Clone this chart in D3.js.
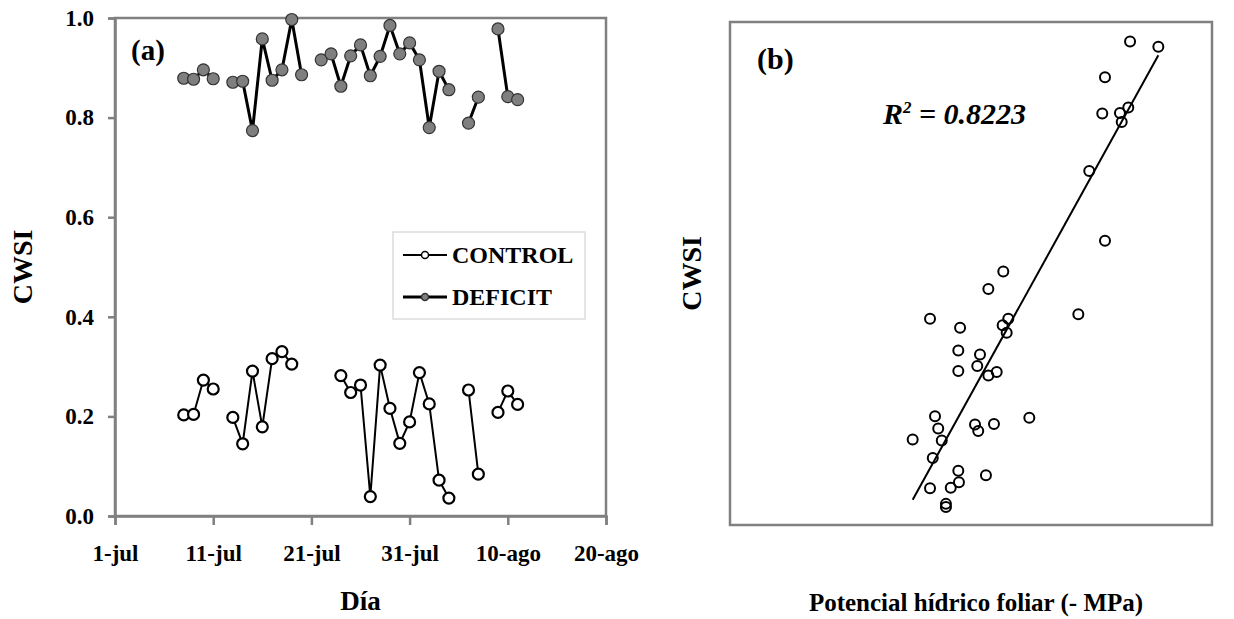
<!DOCTYPE html>
<html lang="es">
<head>
    <meta charset="utf-8">
    <title>CWSI</title>
    <script src="https://cdn.jsdelivr.net/npm/d3@7"></script>
    <style>
        body {
            margin: 0;
            background-color: #fff;
        }
        svg text {
            font-family: "Liberation Serif", "Times New Roman", Times, "DejaVu Serif", serif !important;
            font-weight: bold;
            fill: #000;
        }
    </style>
</head>

<body>
    <svg width="1234" height="619"></svg>

    <script>
    // panel (a): days counted from 1-jul (0 = 1-jul)
    var days = [7, 8, 9, 10, 11, 12, 13, 14, 15, 16, 17, 18, 19, 20, 21, 22, 23, 24, 25, 26, 27,
                28, 29, 30, 31, 32, 33, 34, 35, 36, 37, 38, 39, 40, 41];
    var control = [0.203, 0.204, 0.273, 0.255, null, 0.198, 0.145, 0.291, 0.179, 0.316, 0.330, 0.305,
                   null, null, null, null, 0.282, 0.248, 0.263, 0.039, 0.303, 0.216, 0.146, 0.189,
                   0.288, 0.225, 0.072, 0.036, null, 0.253, 0.084, null, 0.208, 0.251, 0.224];
    var deficit = [0.879, 0.877, 0.896, 0.878, null, 0.871, 0.873, 0.774, 0.958, 0.875, 0.896, 0.997,
                   0.886, null, 0.916, 0.928, 0.863, 0.924, 0.946, 0.884, 0.923, 0.985, 0.928, 0.950,
                   0.916, 0.780, 0.893, 0.856, null, 0.789, 0.841, null, 0.978, 0.842, 0.836];
    var dayTicks = [0, 10, 20, 30, 40, 50];
    var dayTickLabels = ["1-jul", "11-jul", "21-jul", "31-jul", "10-ago", "20-ago"];
    var cwsiTicks = [0, 0.2, 0.4, 0.6, 0.8, 1.0];

    // panel (b): leaf water potential (- MPa) vs CWSI
    var potencial = [2.490, 2.666, 2.334, 2.317, 2.427, 2.479, 2.438, 2.236, 2.334, 1.701, 1.608, 2.168,
                     1.245, 1.732, 1.697, 1.722, 1.432, 1.421, 1.556, 1.539, 1.421, 1.608, 1.660, 1.276,
                     1.296, 1.525, 1.545, 1.643, 1.863, 1.137, 1.318, 1.262, 1.421, 1.593, 1.245, 1.374,
                     1.425, 1.344, 1.344];
    var cwsiB = [0.961, 0.951, 0.890, 0.818, 0.819, 0.830, 0.801, 0.704, 0.565, 0.504, 0.469, 0.419,
                 0.410, 0.410, 0.397, 0.382, 0.392, 0.347, 0.339, 0.316, 0.306, 0.297, 0.304, 0.216,
                 0.192, 0.200, 0.187, 0.201, 0.213, 0.170, 0.168, 0.133, 0.108, 0.099, 0.073, 0.074,
                 0.085, 0.042, 0.036];
    var trendSlope = 0.578;
    var trendIntercept = -0.607;
    var r2Label = "0.8223";

    var svg = d3.select("svg");
    var grey = "#808080";

    //---------------- panel (a) ----------------
    var x = d3.scaleLinear().domain([0, 50]).range([115, 606]);
    var y = d3.scaleLinear().domain([0, 1]).range([516, 18]);

    var a = svg.append("g");

    // plot area border
    a.append("rect")
        .attr("x", x(0)).attr("y", y(1))
        .attr("width", x(50) - x(0)).attr("height", y(0) - y(1))
        .attr("fill", "none").attr("stroke", grey).attr("stroke-width", 2.5);

    var yAxis = a.append("g")
        .attr("transform", "translate(" + x(0) + ",0)")
        .call(d3.axisLeft(y).tickValues(cwsiTicks).tickFormat(d3.format(".1f")).tickSize(7).tickPadding(14));
    var xAxis = a.append("g")
        .attr("transform", "translate(0," + y(0) + ")")
        .call(d3.axisBottom(x).tickValues(dayTicks)
            .tickFormat(function(d, i) { return dayTickLabels[i]; }).tickSize(9).tickPadding(20));

    [yAxis, xAxis].forEach(function(ax) {
        ax.select(".domain").attr("stroke", grey).attr("stroke-width", 2.5);
        ax.selectAll(".tick line").attr("stroke", grey).attr("stroke-width", 2.5);
        ax.selectAll(".tick text").attr("font-size", 23);
    });

    var ctrlPts = days.map(function(d, i) { return { d: d, v: control[i] }; });
    var defPts = days.map(function(d, i) { return { d: d, v: deficit[i] }; });

    var line = d3.line()
        .defined(function(p) { return p.v !== null; })
        .x(function(p) { return x(p.d); })
        .y(function(p) { return y(p.v); });

    a.append("path").datum(ctrlPts)
        .attr("d", line).attr("fill", "none").attr("stroke", "#000").attr("stroke-width", 2);
    a.append("path").datum(defPts)
        .attr("d", line).attr("fill", "none").attr("stroke", "#000").attr("stroke-width", 3);

    a.selectAll("circle.ctrl")
        .data(ctrlPts.filter(function(p) { return p.v !== null; }))
        .enter().append("circle").attr("class", "ctrl")
        .attr("cx", function(p) { return x(p.d); })
        .attr("cy", function(p) { return y(p.v); })
        .attr("r", 5.5).attr("fill", "#fff").attr("stroke", "#000").attr("stroke-width", 2.2);

    a.selectAll("circle.def")
        .data(defPts.filter(function(p) { return p.v !== null; }))
        .enter().append("circle").attr("class", "def")
        .attr("cx", function(p) { return x(p.d); })
        .attr("cy", function(p) { return y(p.v); })
        .attr("r", 6).attr("fill", "#7f7f7f").attr("stroke", "#333").attr("stroke-width", 1.2);

    a.append("text").attr("x", 131).attr("y", 60).attr("font-size", 29).text("(a)");

    a.append("text")
        .attr("transform", "translate(32," + ((y(0) + y(1)) / 2) + ") rotate(-90)")
        .attr("text-anchor", "middle").attr("font-size", 28).text("CWSI");
    a.append("text")
        .attr("x", (x(0) + x(50)) / 2).attr("y", 610)
        .attr("text-anchor", "middle").attr("font-size", 27).text("Día");

    // legend
    var leg = a.append("g");
    leg.append("rect").attr("x", 393).attr("y", 232).attr("width", 192).attr("height", 87)
        .attr("fill", "#fff").attr("stroke", "#dcdcdc").attr("stroke-width", 1.5);
    var legItems = [
        { name: "CONTROL", fill: "#fff", stroke: "#000", w: 2, ly: 255 },
        { name: "DEFICIT", fill: "#7f7f7f", stroke: "#333", w: 3, ly: 297 }
    ];
    legItems.forEach(function(it) {
        leg.append("line").attr("x1", 403).attr("x2", 447).attr("y1", it.ly).attr("y2", it.ly)
            .attr("stroke", "#000").attr("stroke-width", it.w);
        leg.append("circle").attr("cx", 425).attr("cy", it.ly).attr("r", 3.5)
            .attr("fill", it.fill).attr("stroke", it.stroke).attr("stroke-width", 1.5);
        leg.append("text").attr("x", 452).attr("y", it.ly + 8).attr("font-size", 24).text(it.name);
    });

    //---------------- panel (b) ----------------
    var xb = d3.scaleLinear().domain([0, 3]).range([730, 1212]);
    var yb = d3.scaleLinear().domain([0, 1]).range([525, 22]);

    var b = svg.append("g");
    b.append("rect")
        .attr("x", xb(0)).attr("y", yb(1))
        .attr("width", xb(3) - xb(0)).attr("height", yb(0) - yb(1))
        .attr("fill", "none").attr("stroke", grey).attr("stroke-width", 2.5);

    var ext = d3.extent(potencial);
    b.append("line")
        .attr("x1", xb(ext[0])).attr("y1", yb(trendSlope * ext[0] + trendIntercept))
        .attr("x2", xb(ext[1])).attr("y2", yb(trendSlope * ext[1] + trendIntercept))
        .attr("stroke", "#000").attr("stroke-width", 2);

    b.selectAll("circle")
        .data(potencial.map(function(p, i) { return [p, cwsiB[i]]; }))
        .enter().append("circle")
        .attr("cx", function(p) { return xb(p[0]); })
        .attr("cy", function(p) { return yb(p[1]); })
        .attr("r", 5).attr("fill", "none").attr("stroke", "#000").attr("stroke-width", 2);

    b.append("text").attr("x", 757).attr("y", 69).attr("font-size", 30).text("(b)");

    var r2 = b.append("text").attr("x", 883).attr("y", 124).attr("font-size", 30).attr("font-style", "italic");
    r2.append("tspan").text("R");
    r2.append("tspan").attr("font-size", 17).attr("dy", -11).text("2");
    r2.append("tspan").attr("dy", 11).text(" = " + r2Label);

    b.append("text")
        .attr("transform", "translate(701," + ((yb(0) + yb(1)) / 2) + ") rotate(-90)")
        .attr("text-anchor", "middle").attr("font-size", 28).text("CWSI");
    b.append("text")
        .attr("x", 976).attr("y", 611)
        .attr("text-anchor", "middle").attr("font-size", 25).text("Potencial hídrico foliar (- MPa)");
    </script>
</body>
</html>
